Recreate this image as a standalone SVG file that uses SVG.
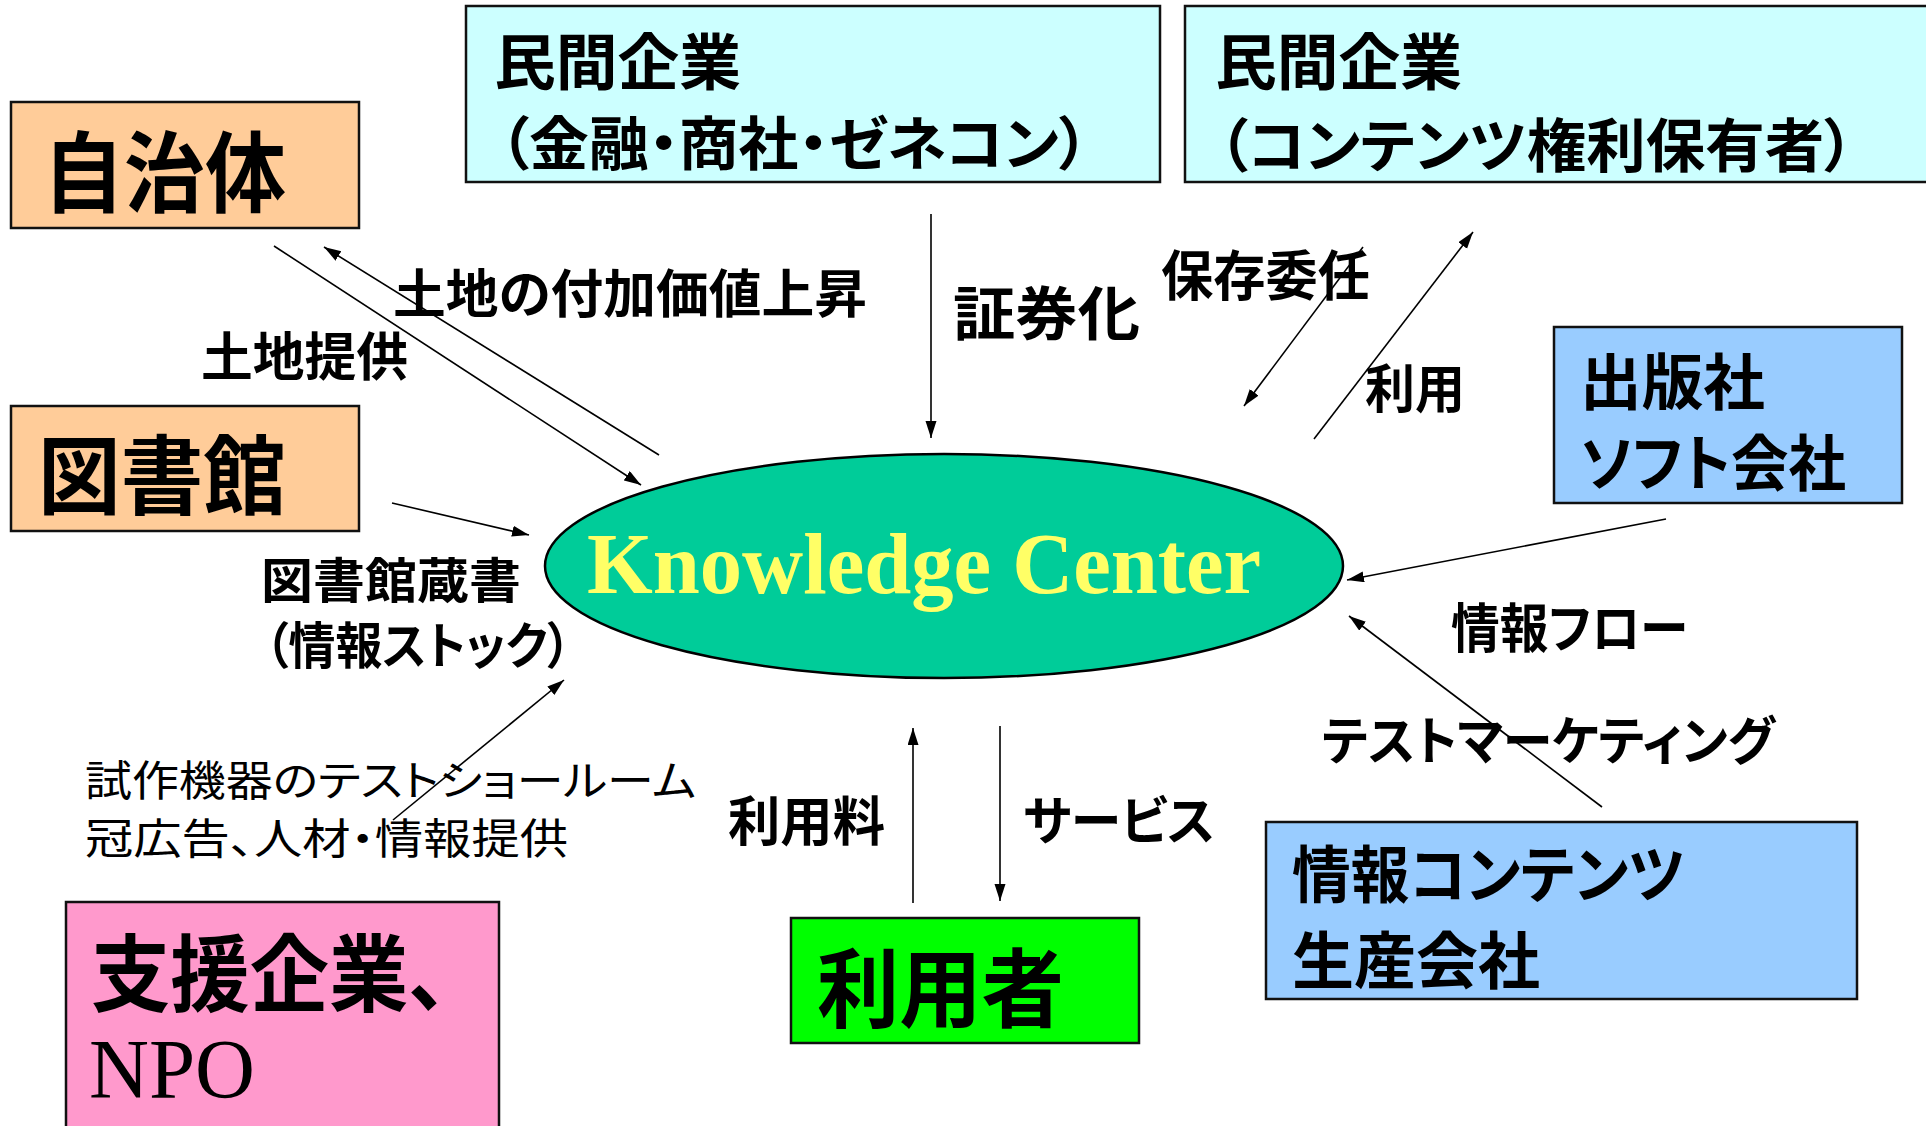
<svg xmlns="http://www.w3.org/2000/svg" width="1926" height="1126" viewBox="0 0 1926 1126">
<style>
.box{stroke:#111;stroke-width:2.5}
.jp{font-family:"Noto Sans CJK JP","Noto Sans CJK SC",sans-serif;font-weight:700;fill:#000;font-feature-settings:"palt"}
.lt{font-weight:400}
.con line{stroke:#000;stroke-width:1.6;fill:none;marker-end:url(#ah)}
</style>
<defs>
<marker id="ah" markerUnits="userSpaceOnUse" markerWidth="18" markerHeight="12" refX="17" refY="5.5" orient="auto">
<path d="M0,0 L17,5.5 L0,11 z" fill="#000"/>
</marker>
</defs>
<rect width="1926" height="1126" fill="#fff"/>

<g id="jichitai">
<rect class="box" x="11" y="102" width="348" height="126" fill="#FFCC99"/>
<text class="jp" x="43" y="205" font-size="88" textLength="243" lengthAdjust="spacingAndGlyphs">自治体</text>
</g>
<g id="toshokan">
<rect class="box" x="11" y="406" width="348" height="125" fill="#FFCC99"/>
<text class="jp" x="38" y="508" font-size="86" textLength="248" lengthAdjust="spacingAndGlyphs">図書館</text>
</g>
<g id="minkan1">
<rect class="box" x="466" y="6" width="694" height="176" fill="#CCFFFF"/>
<text class="jp" x="494" y="85" font-size="61" textLength="247" lengthAdjust="spacingAndGlyphs">民間企業</text>
<text class="jp" x="499" y="165" font-size="58" textLength="590" lengthAdjust="spacingAndGlyphs">（金融・商社・ゼネコン）</text>
</g>
<g id="minkan2">
<rect class="box" x="1185" y="6" width="750" height="176" fill="#CCFFFF"/>
<text class="jp" x="1215" y="85" font-size="61" textLength="247" lengthAdjust="spacingAndGlyphs">民間企業</text>
<text class="jp" x="1218" y="167" font-size="58" textLength="636" lengthAdjust="spacingAndGlyphs">（コンテンツ権利保有者）</text>
</g>
<g id="shuppan">
<rect class="box" x="1554" y="327" width="348" height="176" fill="#99CCFF"/>
<text class="jp" x="1580" y="405" font-size="61" textLength="185" lengthAdjust="spacingAndGlyphs">出版社</text>
<text class="jp" x="1580" y="486" font-size="61" textLength="266" lengthAdjust="spacingAndGlyphs">ソフト会社</text>
</g>
<g id="knowledge">
<ellipse cx="944" cy="566" rx="399" ry="112" fill="#00CC99" stroke="#000" stroke-width="2.5"/>
<text x="587" y="593" font-family="'Liberation Serif','Times New Roman',serif" font-weight="700" font-size="86" fill="#FFFF66" textLength="674" lengthAdjust="spacingAndGlyphs">Knowledge Center</text>
</g>
<g id="riyousha">
<rect class="box" x="791" y="918" width="348" height="125" fill="#00FF00"/>
<text class="jp" x="817" y="1021" font-size="86" textLength="247" lengthAdjust="spacingAndGlyphs">利用者</text>
</g>
<g id="contents">
<rect class="box" x="1266" y="822" width="591" height="177" fill="#99CCFF"/>
<text class="jp" x="1292" y="898" font-size="62" textLength="393" lengthAdjust="spacingAndGlyphs">情報コンテンツ</text>
<text class="jp" x="1292" y="984" font-size="62" textLength="248" lengthAdjust="spacingAndGlyphs">生産会社</text>
</g>
<g id="shien">
<rect class="box" x="66" y="902" width="433" height="240" fill="#FF99CC"/>
<text class="jp" x="91" y="1005" font-size="84" textLength="357" lengthAdjust="spacingAndGlyphs">支援企業、</text>
<text x="89" y="1098" font-family="'Liberation Serif','Times New Roman',serif" font-size="84" fill="#000" textLength="166" lengthAdjust="spacingAndGlyphs">NPO</text>
</g>

<g id="connectors" class="con">
<line x1="274" y1="246" x2="641" y2="485"/>
<line x1="659" y1="455" x2="324" y2="247"/>
<line x1="931" y1="214" x2="931" y2="438"/>
<line x1="392" y1="503" x2="529" y2="535"/>
<line x1="1363" y1="247" x2="1244" y2="406"/>
<line x1="1314" y1="439" x2="1473" y2="232"/>
<line x1="1666" y1="519" x2="1347" y2="580"/>
<line x1="1602" y1="807" x2="1349" y2="616"/>
<line x1="393" y1="820" x2="564" y2="680"/>
<line x1="913" y1="903" x2="913" y2="728"/>
<line x1="1000" y1="726" x2="1000" y2="901"/>
</g>

<g id="labels">
<text class="jp" x="393" y="313" font-size="52" textLength="474" lengthAdjust="spacingAndGlyphs">土地の付加価値上昇</text>
<text class="jp" x="201" y="376" font-size="52" textLength="207" lengthAdjust="spacingAndGlyphs">土地提供</text>
<text class="jp" x="953" y="335" font-size="58" textLength="187" lengthAdjust="spacingAndGlyphs">証券化</text>
<text class="jp" x="1161" y="296" font-size="54" textLength="209" lengthAdjust="spacingAndGlyphs">保存委任</text>
<text class="jp" x="1365" y="408" font-size="52" textLength="100" lengthAdjust="spacingAndGlyphs">利用</text>
<text class="jp" x="261" y="598" font-size="48" textLength="260" lengthAdjust="spacingAndGlyphs">図書館蔵書</text>
<text class="jp" x="265" y="664" font-size="50" textLength="306" lengthAdjust="spacingAndGlyphs">（情報ストック）</text>
<text class="jp lt" x="85" y="796" font-size="42" textLength="611" lengthAdjust="spacingAndGlyphs">試作機器のテストショールーム</text>
<text class="jp lt" x="85" y="854" font-size="42" textLength="483" lengthAdjust="spacingAndGlyphs">冠広告、人材・情報提供</text>
<text class="jp" x="728" y="841" font-size="53" textLength="157" lengthAdjust="spacingAndGlyphs">利用料</text>
<text class="jp" x="1023" y="840" font-size="52" textLength="192" lengthAdjust="spacingAndGlyphs">サービス</text>
<text class="jp" x="1451" y="648" font-size="53" textLength="237" lengthAdjust="spacingAndGlyphs">情報フロー</text>
<text class="jp" x="1322" y="760" font-size="52" textLength="453" lengthAdjust="spacingAndGlyphs">テストマーケティング</text>
</g>
</svg>
